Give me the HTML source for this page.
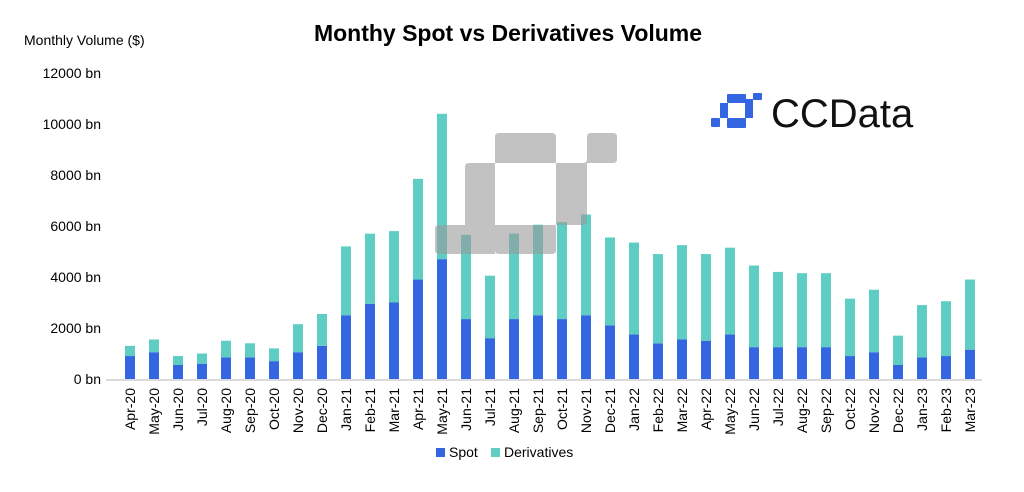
<!DOCTYPE html>
<html><head><meta charset="utf-8"><style>
body{margin:0;background:#fff;font-family:"Liberation Sans",Arial,sans-serif}
svg text{font-family:"Liberation Sans",Arial,sans-serif}
</style></head><body>
<svg id="c" width="1024" height="487" viewBox="0 0 1024 487">
<text x="508" y="41" text-anchor="middle" font-size="23" font-weight="bold" fill="#000">Monthy Spot vs Derivatives Volume</text>
<text x="24" y="45" font-size="14" fill="#000">Monthly Volume ($)</text>
<g fill="#3366e0">
<rect x="711" y="118" width="9" height="9" rx="1"/>
<rect x="720" y="103" width="8" height="15"/>
<rect x="727" y="94" width="19" height="9" rx="1"/>
<rect x="745" y="99" width="8" height="19"/>
<rect x="727" y="118" width="19" height="10" rx="1"/>
<rect x="753" y="93" width="9" height="7" rx="1"/>
<text x="771" y="127" font-size="40" fill="#111">CCData</text>
</g>
<g id="wm" fill="#999" opacity="0.6">
<path d="M499 133 H552 Q556 133 556 137 V163 H583 Q587 163 587 159 V137 Q587 133 591 133 H613 Q617 133 617 137 V159 Q617 163 613 163 H587 V221 Q587 225 583 225 H556 V250 Q556 254 552 254 H499 Q495 254 495 250 V254 H439 Q435 254 435 250 V229 Q435 225 439 225 H465 V167 Q465 163 469 163 H495 V137 Q495 133 499 133 Z M495 163 V225 H556 V163 Z" fill-rule="evenodd"/>
</g>
<g id="plot"></g>
<g>
<rect x="436" y="448" width="9" height="9" fill="#3366e0"/>
<text x="449" y="457" font-size="14">Spot</text>
<rect x="491" y="448" width="9" height="9" fill="#5ecec4"/>
<text x="504" y="457" font-size="14">Derivatives</text>
</g>
</svg>
<script>
const categories=["Apr-20","May-20","Jun-20","Jul-20","Aug-20","Sep-20","Oct-20","Nov-20","Dec-20","Jan-21","Feb-21","Mar-21","Apr-21","May-21","Jun-21","Jul-21","Aug-21","Sep-21","Oct-21","Nov-21","Dec-21","Jan-22","Feb-22","Mar-22","Apr-22","May-22","Jun-22","Jul-22","Aug-22","Sep-22","Oct-22","Nov-22","Dec-22","Jan-23","Feb-23","Mar-23"];
const spot=[900,1050,550,600,850,850,700,1050,1300,2500,2950,3000,3900,4700,2350,1600,2350,2500,2350,2500,2100,1750,1400,1550,1500,1750,1250,1250,1250,1250,900,1050,550,850,900,1150];
const derivatives=[400,500,350,400,650,550,500,1100,1250,2700,2750,2800,3950,5700,3300,2450,3350,3550,3800,3950,3450,3600,3500,3700,3400,3400,3200,2950,2900,2900,2250,2450,1150,2050,2150,2750];
const ticks=[0,2000,4000,6000,8000,10000,12000];
const NS="http://www.w3.org/2000/svg";
const g=document.getElementById('plot');
const y0=379,pxPer=306/12000;
const yS=v=>y0-v*pxPer;
const xS=i=>130+i*24;
function mk(t,a){const e=document.createElementNS(NS,t);for(const k in a)e.setAttribute(k,a[k]);g.appendChild(e);return e;}
ticks.forEach(t=>{
 const e=mk('text',{x:101,y:yS(t)+5,'text-anchor':'end','font-size':14,fill:'#000'});
 e.textContent=t+' bn';
 
 
});
const ax=mk('line',{x1:106,x2:982,y1:y0+1,y2:y0+1,stroke:'#d9d9d9','stroke-width':2});


categories.forEach((c,i)=>{
 const x=xS(i);
 const s=mk('rect',{x:x-5,y:yS(spot[i]),width:10,height:spot[i]*pxPer,fill:'#3366e0'});
 
 
 const d=mk('rect',{x:x-5,y:yS(spot[i]+derivatives[i]),width:10,height:derivatives[i]*pxPer,fill:'#5ecec4'});
 
 
 const t=mk('text',{x:0,y:0,'text-anchor':'end','font-size':14,transform:`translate(${x+5},388) rotate(-90)`});
 t.textContent=c;
 
 
});
g.parentNode.appendChild(document.getElementById('wm'));
</script>
</body></html>
